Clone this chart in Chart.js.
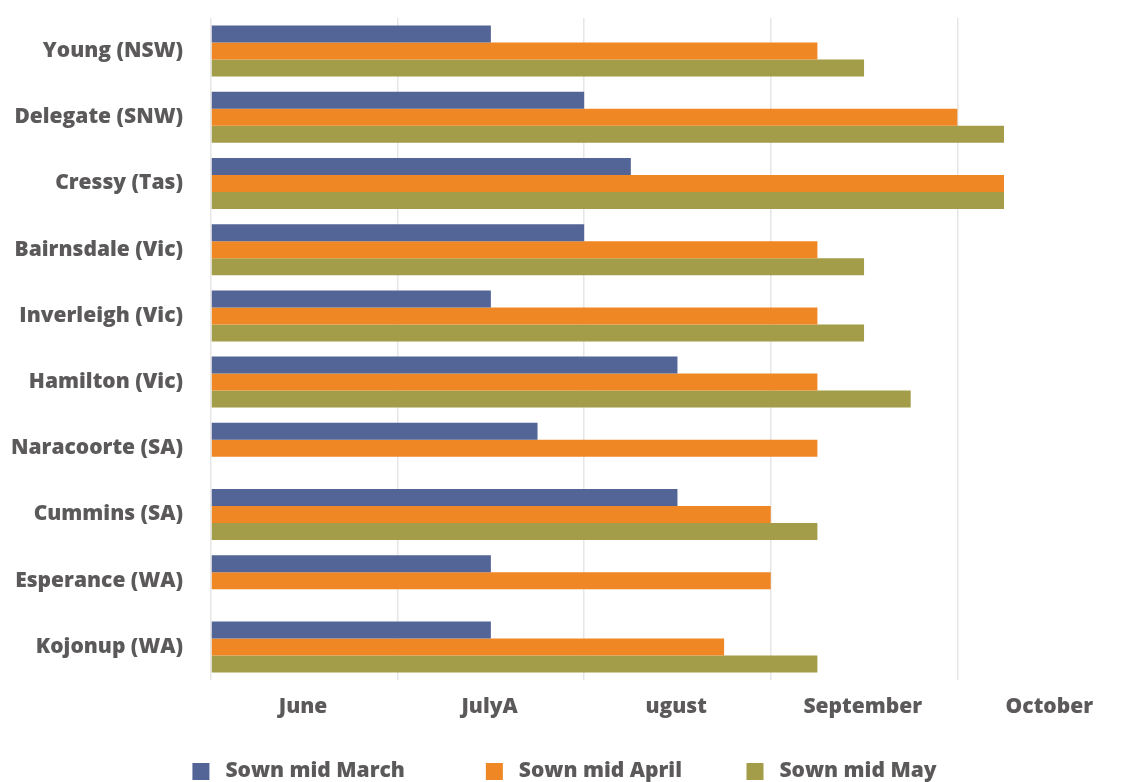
<!DOCTYPE html>
<html>
<head>
<meta charset="utf-8">
<title>Sowing time and flowering</title>
<script src="https://cdn.jsdelivr.net/npm/chart.js@4"></script>
<style>
  html, body { margin: 0; padding: 0; background: #fff; overflow: hidden; }
  #wrap { position: relative; width: 1129px; height: 792px; }
</style>
</head>
<body>
<div id="wrap"><canvas id="sowingChart"></canvas></div>
<script>
// Sites, top to bottom
const sites = [
    'Young (NSW)', 'Delegate (SNW)', 'Cressy (Tas)', 'Bairnsdale (Vic)', 'Inverleigh (Vic)',
    'Hamilton (Vic)', 'Naracoorte (SA)', 'Cummins (SA)', 'Esperance (WA)', 'Kojonup (WA)'
];

// Month labels along the bottom (one per gridline step)
const monthLabels = ['June', 'JulyA', 'ugust', 'September', 'October'];

// Months after the start of June for each sowing time
const sownMarch = [1.5, 2.0, 2.25, 2.0, 1.5, 2.5, 1.75, 2.5, 1.5, 1.5];
const sownApril = [3.25, 4.0, 4.25, 3.25, 3.25, 3.25, 3.25, 3.0, 3.0, 2.75];
const sownMay = [3.5, 4.25, 4.25, 3.5, 3.5, 3.75, null, 3.25, null, 3.25];

// trailing spaces after each legend entry (keeps the wide gaps between them)
const legendGaps = [13, 10, 0];

const textColor = '#5b5959';
const labelFont = { family: '"Open Sans", Lato, sans-serif', size: 21, weight: 800 };

const ctx = document.getElementById('sowingChart').getContext('2d');
const sowingChart = new Chart(ctx, {
    type: 'bar',
    data: {
        labels: sites,
        datasets: [
            { label: 'Sown mid March', data: sownMarch, backgroundColor: '#536496' },
            { label: 'Sown mid April', data: sownApril, backgroundColor: '#F08725' },
            { label: 'Sown mid May', data: sownMay, backgroundColor: '#A39C48' }
        ]
    },
    options: {
        indexAxis: 'y',
        responsive: true,
        maintainAspectRatio: false,
        animation: false,
        categoryPercentage: 0.77,
        barPercentage: 1.0,
        layout: {
            padding: { top: 18, right: 0, bottom: 0, left: 0 }
        },
        scales: {
            x: {
                min: 0,
                max: 4.92,
                ticks: {
                    stepSize: 1,
                    padding: 14,
                    labelOffset: 92,
                    color: textColor,
                    font: labelFont,
                    callback: (value) => monthLabels[value] ?? ''
                },
                afterBuildTicks: (scale) => {
                    scale.ticks = scale.ticks.filter(t => Number.isInteger(t.value) && t.value < monthLabels.length);
                },
                afterFit: (scale) => { scale.height = 71; },
                grid: {
                    color: '#e6e6e6',
                    lineWidth: 1.5,
                    drawTicks: false
                },
                border: { display: false }
            },
            y: {
                ticks: {
                    padding: 20,
                    color: textColor,
                    font: labelFont
                },
                afterFit: (scale) => {
                    scale.width = 211;
                    scale.paddingTop = 0;
                    scale.paddingBottom = 0;
                },
                grid: { display: false },
                border: { display: false }
            }
        },
        plugins: {
            legend: {
                position: 'bottom',
                labels: {
                    boxWidth: 17,
                    boxHeight: 17,
                    padding: 10,
                    color: textColor,
                    font: labelFont,
                    generateLabels: (chart) => {
                        return Chart.defaults.plugins.legend.labels.generateLabels(chart).map((item, i) => {
                            item.text = ' ' + item.text + '\u00a0'.repeat(legendGaps[i]);
                            item.lineWidth = 0;
                            return item;
                        });
                    }
                }
            },
            tooltip: { enabled: false }
        }
    }
});
</script>
</body>
</html>
